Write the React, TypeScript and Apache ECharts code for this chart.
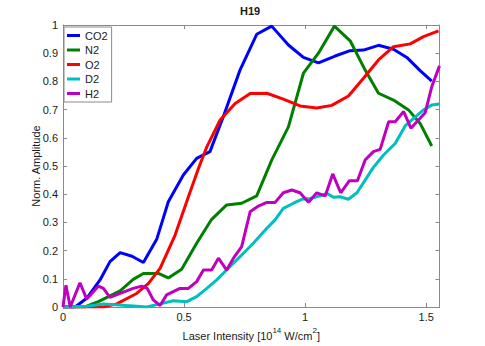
import React, { useEffect, useRef } from "react";
import * as echarts from "echarts";

const seriesNames = ["CO2", "N2", "O2", "D2", "H2"];
const seriesColors = ["#0000ff", "#008000", "#ff0000", "#00bfbf", "#bf00bf"];

const co2: [number, number][] = [
  [0, 0], [0.05, 0], [0.098, 0.031], [0.153, 0.096], [0.194, 0.161], [0.236, 0.193],
  [0.285, 0.18], [0.332, 0.158], [0.387, 0.24], [0.435, 0.373], [0.497, 0.468],
  [0.552, 0.527], [0.607, 0.551], [0.662, 0.675], [0.731, 0.84], [0.8, 0.967],
  [0.862, 0.996], [0.931, 0.929], [0.993, 0.885], [1.055, 0.866], [1.124, 0.89],
  [1.186, 0.909], [1.241, 0.911], [1.303, 0.928], [1.365, 0.914], [1.42, 0.885],
  [1.475, 0.838], [1.523, 0.801],
];

const n2: [number, number][] = [
  [0, 0], [0.09, 0], [0.146, 0.019], [0.236, 0.057], [0.29, 0.098], [0.332, 0.119],
  [0.394, 0.119], [0.435, 0.103], [0.49, 0.134], [0.552, 0.226], [0.614, 0.311],
  [0.676, 0.362], [0.738, 0.368], [0.8, 0.394], [0.862, 0.521], [0.931, 0.639],
  [0.993, 0.829], [1.055, 0.9], [1.121, 0.996], [1.186, 0.944], [1.248, 0.84],
  [1.303, 0.758], [1.365, 0.734], [1.427, 0.699], [1.475, 0.651], [1.523, 0.571],
];

const o2: [number, number][] = [
  [0, 0], [0.167, 0], [0.222, 0.011], [0.304, 0.048], [0.353, 0.084], [0.401, 0.137],
  [0.463, 0.255], [0.518, 0.391], [0.559, 0.49], [0.594, 0.568], [0.649, 0.663],
  [0.711, 0.722], [0.773, 0.757], [0.842, 0.758], [0.91, 0.737], [0.979, 0.713],
  [1.048, 0.706], [1.11, 0.715], [1.179, 0.748], [1.241, 0.811], [1.303, 0.876],
  [1.365, 0.923], [1.434, 0.933], [1.489, 0.959], [1.551, 0.979],
];

const d2: [number, number][] = [
  [0, 0], [0.1, 0.003], [0.167, 0.011], [0.263, 0.005], [0.346, 0], [0.401, 0.011],
  [0.456, 0.022], [0.511, 0.019], [0.552, 0.037], [0.594, 0.066], [0.635, 0.096],
  [0.676, 0.131], [0.731, 0.178], [0.786, 0.226], [0.842, 0.279], [0.876, 0.309],
  [0.91, 0.35], [0.952, 0.368], [0.986, 0.382], [1.021, 0.385], [1.062, 0.394],
  [1.09, 0.403], [1.117, 0.389], [1.145, 0.391], [1.179, 0.382], [1.214, 0.405],
  [1.248, 0.45], [1.282, 0.495], [1.324, 0.539], [1.372, 0.58], [1.413, 0.642],
  [1.448, 0.669], [1.489, 0.699], [1.523, 0.716], [1.555, 0.72],
];

const h2: [number, number][] = [
  [0, 0], [0.012, 0.077], [0.03, 0], [0.07, 0.086], [0.098, 0.028], [0.146, 0.074],
  [0.167, 0.066], [0.194, 0.034], [0.236, 0.048], [0.29, 0.066], [0.325, 0.074],
  [0.348, 0.066], [0.373, 0.025], [0.401, 0.005], [0.428, 0.043], [0.483, 0.066],
  [0.518, 0.066], [0.552, 0.09], [0.58, 0.131], [0.614, 0.131], [0.642, 0.173],
  [0.676, 0.131], [0.704, 0.173], [0.738, 0.214], [0.773, 0.338], [0.807, 0.358],
  [0.842, 0.371], [0.876, 0.371], [0.91, 0.405], [0.945, 0.415], [0.979, 0.405],
  [1.014, 0.371], [1.048, 0.405], [1.083, 0.394], [1.114, 0.472], [1.147, 0.405],
  [1.183, 0.448], [1.216, 0.448], [1.248, 0.521], [1.282, 0.551], [1.31, 0.559],
  [1.345, 0.657], [1.372, 0.657], [1.407, 0.693], [1.437, 0.634], [1.468, 0.663],
  [1.496, 0.689], [1.523, 0.781], [1.555, 0.855],
];

const allData = [co2, n2, o2, d2, h2];
const xTickLabels = ["0", "0.5", "1", "1.5"];

const FONT = "Liberation Sans, Arial, Helvetica, sans-serif";
const AXIS_COLOR = "#8a8a8a";
const TEXT_COLOR = "#1a1a1a";

export default function App() {
  const ref = useRef<HTMLDivElement>(null);
  useEffect(() => {
    if (!ref.current) return;
    const chart = echarts.init(ref.current, undefined, { renderer: "svg" });
    const axisBase = {
      type: "value" as const,
      axisLine: { show: true, onZero: false, lineStyle: { color: AXIS_COLOR, width: 1 } },
      axisTick: { show: true, inside: true, length: 4, lineStyle: { color: AXIS_COLOR } },
      splitLine: { show: false },
    };
    const xCommon = { ...axisBase, min: 0, max: 1.555, interval: 0.5 };
    const yCommon = { ...axisBase, min: 0, max: 1, interval: 0.1 };
    chart.setOption({
      animation: false,
      backgroundColor: "#ffffff",
      title: {
        text: "H19",
        left: 240,
        top: 5,
        padding: 0,
        textStyle: { fontFamily: FONT, fontSize: 11, fontWeight: "bold", color: TEXT_COLOR },
      },
      legend: {
        data: seriesNames,
        orient: "vertical",
        left: 64,
        top: 27,
        padding: [2.5, 4, 2.5, 3],
        itemGap: 2.5,
        itemWidth: 13,
        itemHeight: 3,
        icon: "rect",
        borderColor: "#8a8a8a",
        borderWidth: 1,
        backgroundColor: "#ffffff",
        textStyle: { fontFamily: FONT, fontSize: 11, color: TEXT_COLOR, lineHeight: 12 },
      },
      grid: { left: 63, top: 25, right: 45.5, bottom: 39, containLabel: false },
      xAxis: [
        {
          ...xCommon,
          position: "bottom",
          name: "{n|Laser Intensity [10}{s|14}{n| W/cm}{s|2}{n|]}",
          nameLocation: "middle",
          nameGap: 19,
          nameMoveOverlap: false,
          nameTextStyle: {
            fontFamily: FONT,
            color: TEXT_COLOR,
            rich: {
              n: { fontFamily: FONT, fontSize: 11, color: TEXT_COLOR, lineHeight: 15, verticalAlign: "bottom" },
              s: { fontFamily: FONT, fontSize: 8, color: TEXT_COLOR, lineHeight: 15, verticalAlign: "top" },
            },
          },
          axisLabel: {
            fontFamily: FONT,
            fontSize: 11,
            color: TEXT_COLOR,
            margin: 4,
            showMaxLabel: false,
            formatter: (v: number) => {
              const i = Math.round(v / 0.5);
              return Math.abs(v - i * 0.5) < 1e-6 && i < xTickLabels.length ? xTickLabels[i] : "";
            },
          },
        },
        {
          ...xCommon,
          position: "top",
          axisLabel: { show: false },
        },
      ],
      yAxis: [
        {
          ...yCommon,
          position: "left",
          name: "Norm. Amplitude",
          nameLocation: "middle",
          nameGap: 22,
          nameMoveOverlap: false,
          nameTextStyle: { fontFamily: FONT, fontSize: 11, color: TEXT_COLOR },
          axisLabel: { fontFamily: FONT, fontSize: 11, color: TEXT_COLOR, margin: 5 },
        },
        {
          ...yCommon,
          position: "right",
          axisLabel: { show: false },
        },
      ],
      series: seriesNames.map((name, i) => ({
        name,
        type: "line",
        data: allData[i],
        xAxisIndex: 0,
        yAxisIndex: 0,
        showSymbol: false,
        symbol: "none",
        clip: true,
        color: seriesColors[i],
        lineStyle: { color: seriesColors[i], width: 3 },
        emphasis: { disabled: true },
      })),
    });
    return () => chart.dispose();
  }, []);
  return (
    <div
      ref={ref}
      style={{ position: "fixed", left: 0, top: 0, width: 485, height: 346 }}
    />
  );
}
